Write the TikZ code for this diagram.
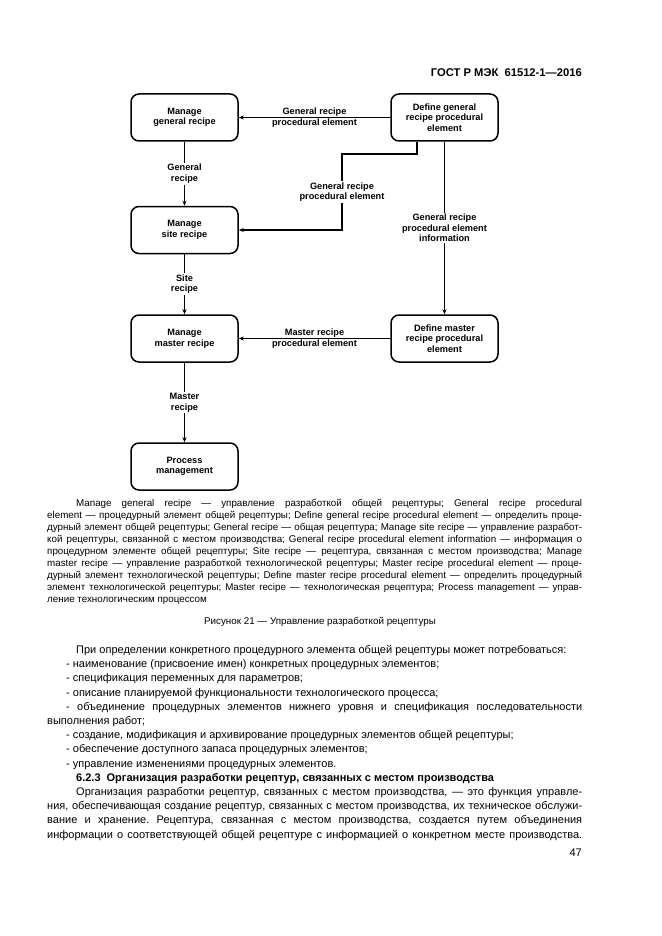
\documentclass[tikz,border=0pt]{standalone}
\usepackage{fontspec}
\setmainfont{Liberation Sans}
\usetikzlibrary{arrows.meta}
\frenchspacing
\newcommand{\jl}[2]{\makebox[#1][s]{#2}}
\newcommand{\diagfont}{\fontsize{9.2}{10.6}\selectfont\bfseries}
\newcommand{\legfont}{\fontsize{9.8}{12}\selectfont}
\newcommand{\bodyfont}{\fontsize{11}{14}\selectfont}
\begin{document}
\begin{tikzpicture}[x=1pt,y=-1pt,
  box/.style={draw, line width=1.5pt, rounded corners=8pt, minimum width=107pt, minimum height=47pt, align=center, font=\diagfont, inner sep=2pt},
  lbl/.style={fill=white, align=center, font=\diagfont, inner sep=1.5pt},
  arr/.style={line width=1.4pt, -{Stealth[length=5pt,width=4pt]}},
  leg/.style={anchor=base west, inner sep=0pt, font=\legfont},
  body/.style={anchor=base west, inner sep=0pt, font=\bodyfont}]
\useasboundingbox (0,0) rectangle (661,936);
\fill[white] (0,0) rectangle (661,936);

% header
\node[anchor=base east, inner sep=0pt, font=\fontsize{11.2}{14}\selectfont\bfseries] (hdr) at (582,77) {ГОСТ Р МЭК\ \ 61512-1—2016};

% diagram
\node[box] (mg) at (184.5,117.5) {Manage\\general recipe};
\node[box] (dg) at (444.5,117.5) {Define general\\recipe procedural\\element};
\node[box] (ms) at (184.5,230) {Manage\\site recipe};
\node[box] (mm) at (184.5,338.5) {Manage\\master recipe};
\node[box] (dm) at (444.5,338.5) {Define master\\recipe procedural\\element};
\node[box] (pm) at (184.5,466.5) {Process\\management};
\coordinate (k1) at (342,154);

\draw[arr] (dg) -- node[anchor=south, font=\diagfont, inner sep=0.8pt]{General recipe} node[anchor=north, font=\diagfont, inner sep=0.8pt]{procedural element} (mg);
\draw[arr] (mg) -- node[lbl]{General\\recipe} (ms);
\draw[arr] ([xshift=-27.5pt]dg.south) |- (k1) |- node[lbl,pos=0.25]{General recipe\\procedural element} (ms.east);
\draw[arr] (dg) -- node[lbl]{General recipe\\procedural element\\information} (dm);
\draw[arr] (ms) -- node[lbl]{Site\\recipe} (mm);
\draw[arr] (dm) -- node[anchor=south, font=\diagfont, inner sep=0.8pt]{Master recipe} node[anchor=north, font=\diagfont, inner sep=0.8pt]{procedural element} (mm);
\draw[arr] (mm) -- node[lbl]{Master\\recipe} (pm);

% legend
\node[leg] (l1) at (76,506) {\jl{506pt}{Manage general recipe — управление разработкой общей рецептуры; General recipe procedural}};
\node[leg] (l2) at (47,518) {\jl{535pt}{element — процедурный элемент общей рецептуры; Define general recipe procedural element — определить проце-}};
\node[leg] (l3) at (47,530) {\jl{535pt}{дурный элемент общей рецептуры; General recipe — общая рецептура; Manage site recipe — управление разработ-}};
\node[leg] (l4) at (47,542) {\jl{535pt}{кой рецептуры, связанной с местом производства; General recipe procedural element information — информация о}};
\node[leg] (l5) at (47,554) {\jl{535pt}{процедурном элементе общей рецептуры; Site recipe — рецептура, связанная с местом производства; Manage}};
\node[leg] (l6) at (47,566) {\jl{535pt}{master recipe — управление разработкой технологической рецептуры; Master recipe procedural element — проце-}};
\node[leg] (l7) at (47,578) {\jl{535pt}{дурный элемент технологической рецептуры; Define master recipe procedural element — определить процедурный}};
\node[leg] (l8) at (47,590) {\jl{535pt}{элемент технологической рецептуры; Master recipe — технологическая рецептура; Process management — управ-}};
\node[leg] (l9) at (47,602) {ление технологическим процессом};

\node[anchor=base, inner sep=0pt, font=\legfont] (cap) at (320,624.5) {Рисунок 21 — Управление разработкой рецептуры};

% body
\node[body] (b0) at (76,653.5) {При определении конкретного процедурного элемента общей рецептуры может потребоваться:};
\node[body] (b1) at (66,667.7) {- наименование (присвоение имен) конкретных процедурных элементов;};
\node[body] (b2) at (66,681.9) {- спецификация переменных для параметров;};
\node[body] (b3) at (66,696.1) {- описание планируемой функциональности технологического процесса;};
\node[body] (b4) at (66,710.3) {\jl{516pt}{- объединение процедурных элементов нижнего уровня и спецификация последовательности}};
\node[body] (b5) at (47,724.5) {выполнения работ;};
\node[body] (b6) at (66,738.7) {- создание, модификация и архивирование процедурных элементов общей рецептуры;};
\node[body] (b7) at (66,752.9) {- обеспечение доступного запаса процедурных элементов;};
\node[body] (b8) at (66,767.1) {- управление изменениями процедурных элементов.};
\node[body, font=\bodyfont\bfseries] (b9) at (76,781.3) {6.2.3\hspace{6pt}Организация разработки рецептур, связанных с местом производства};
\node[body] (b10) at (76,795.5) {\jl{506pt}{Организация разработки рецептур, связанных с местом производства, — это функция управле-}};
\node[body] (b11) at (47,809.7) {\jl{535pt}{ния, обеспечивающая создание рецептур, связанных с местом производства, их техническое обслужи-}};
\node[body] (b12) at (47,823.9) {\jl{535pt}{вание и хранение. Рецептура, связанная с местом производства, создается путем объединения}};
\node[body] (b13) at (47,838.1) {\jl{535pt}{информации о соответствующей общей рецептуре с информацией о конкретном месте производства.}};

\node[anchor=base east, inner sep=0pt, font=\bodyfont] (pg) at (582,856.5) {47};
\end{tikzpicture}
\end{document}
